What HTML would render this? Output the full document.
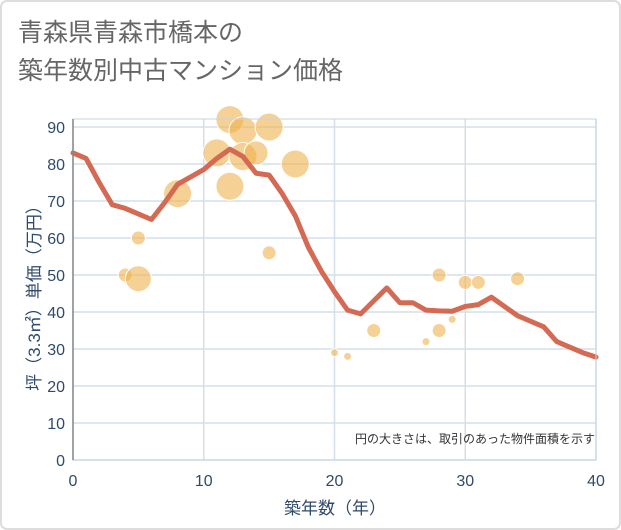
<!DOCTYPE html>
<html><head><meta charset="utf-8"><style>
body{margin:0;background:#fff;}
#wrap{position:relative;width:621px;height:530px;overflow:hidden;}
.t{font-family:"Liberation Sans","Noto Sans CJK JP",sans-serif;}
</style></head><body>
<div id="wrap">
<svg id="svg" width="621" height="530" xmlns="http://www.w3.org/2000/svg" class="t">
<rect x="1" y="1" width="619" height="528" rx="6" fill="#fff" stroke="#ddd" stroke-width="2"/>
<text x="18" y="41" font-size="25" fill="#666">青森県青森市橋本の</text>
<text x="18" y="79" font-size="25" fill="#666">築年数別中古マンション価格</text>
<g id="grid"></g>
<g id="bubbles"></g>
<g id="line"></g>
<g id="axes"></g>
<text x="595" y="443" font-size="12" fill="#333" text-anchor="end">円の大きさは、取引のあった物件面積を示す</text>
<text x="335" y="514" font-size="17" fill="#2f4a6a" text-anchor="middle">築年数（年）</text>
<text transform="translate(40,294) rotate(-90)" font-size="17" fill="#2f4a6a" text-anchor="middle">坪（3.3㎡）単価（万円）</text>
</svg>
</div>
<script>
const xTicks=[0,10,20,30,40];
const yTicks=[0,10,20,30,40,50,60,70,80,90];
const lineX=[0,1,2,3,4,5,6,7,8,9,10,11,12,13,14,15,16,17,18,19,20,21,22,23,24,25,26,27,28,29,30,31,32,33,34,35,36,37,38,39,40];
const lineY=[83,81.5,75,69,68,66.5,65,69.5,74.5,76.5,78.5,81.5,84,82,77.5,77,72,66,57.5,51,45.5,40.5,39.5,43,46.5,42.5,42.5,40.5,40.3,40.2,41.5,42,44,41.5,39,37.5,36,32,30.5,29,27.8];
const bubX=[4,5,5,8,11,12,12,13,13,14,15,15,17,20,21,23,27,28,28,29,30,31,34];
const bubY=[50,49,60,72,83,92,74,89,82,83,90,56,80,29,28,35,32,50,35,38,48,48,49];
const bubS=[7,13,7,14,14,14,14,14,14,12,14,7,14,4,4,7,4,7,7,4,7,7,7];
const X0=73,X1=596,Y0=460,Y1=127;
const sx=v=>X0+(v-0)/40*(X1-X0);
const sy=v=>Y0-(v/90)*(Y0-Y1);
const NS="http://www.w3.org/2000/svg";
function mk(tag,attrs,parent){const e=document.createElementNS(NS,tag);for(const k in attrs)e.setAttribute(k,attrs[k]);parent.appendChild(e);return e;}
const grid=document.getElementById('grid'),axes=document.getElementById('axes');
yTicks.forEach(v=>{
 const l=mk('line',{x1:X0,x2:X1,y1:sy(v),y2:sy(v),stroke:'#d4dfe9','stroke-width':1.5},grid);
 
 
 const t=mk('text',{x:X0-8,y:sy(v)+6,'font-size':16,fill:'#2f4a6a','text-anchor':'end'},axes);
 t.textContent=v;
 
 
});
xTicks.forEach(v=>{
 const l=mk('line',{x1:sx(v),x2:sx(v),y1:Y1-8,y2:Y0,stroke:'#d4dfe9','stroke-width':1.5},grid);
 
 
 const t=mk('text',{x:sx(v),y:Y0+26,'font-size':16,fill:'#2f4a6a','text-anchor':'middle'},axes);
 t.textContent=v;
 
 
});
const fr=mk('rect',{x:X0,y:Y1-8,width:X1-X0,height:Y0-Y1+8,fill:'none',stroke:'#c8d3de','stroke-width':1},axes);


const ax=mk('line',{x1:X0,x2:X0,y1:Y1-8,y2:Y0,stroke:'#888','stroke-width':1.5},axes);


const bg=document.getElementById('bubbles');
bubX.forEach((x,i)=>{
 const c=mk('circle',{cx:sx(x),cy:sy(bubY[i]),r:bubS[i],fill:'#efb24e','fill-opacity':0.6,stroke:'#fff','stroke-width':1},bg);
 
 
});
const pts=lineX.map((x,i)=>sx(x)+','+sy(lineY[i])).join(' ');
const pl=mk('polyline',{points:pts,fill:'none',stroke:'#d46a53','stroke-width':5,'stroke-linejoin':'round','stroke-linecap':'round'},document.getElementById('line'));


</script>
</body></html>
